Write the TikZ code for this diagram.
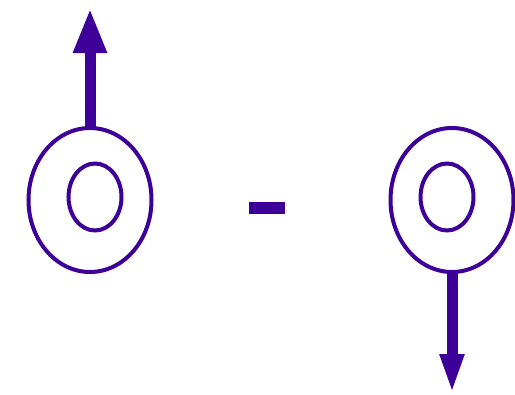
\documentclass[tikz,border=0pt]{standalone}
\usepackage{tikz}
\usetikzlibrary{shapes.geometric,arrows.meta,positioning,calc}
\definecolor{spinpurple}{RGB}{61,0,153}

\begin{document}
\begin{tikzpicture}[
    x=0.75pt, y=-0.75pt,
    ring/.style={draw=spinpurple, ellipse, inner sep=0pt, line width=3pt},
    outerring/.style={ring, minimum width=92.25pt, minimum height=108pt},
    innerring/.style={ring, minimum width=39.75pt, minimum height=50.25pt},
    spin/.style={draw=spinpurple, line width=8.25pt, -{Triangle[length=33.75pt, width=23.25pt]}}
]
\useasboundingbox (0,0) rectangle (515,394);
% left particle, spin up
\node[outerring] (lo) at (90,200) {};
\node[innerring] (li) at (95,197) {};
% right particle, spin down
\node[outerring] (ro) at (452,200) {};
\node[innerring] (ri) at (447,197) {};
% minus sign
\node[fill=spinpurple, inner sep=0pt, minimum width=27pt, minimum height=9pt] (minus) at (267,208) {};

\coordinate (ltip) at (90,8);
\coordinate (rtip) at (453,394);
\draw[spin, shorten <=-1pt] (lo.north) -- (lo.north |- ltip);
\draw[spin, -{Triangle[length=30pt, width=16.5pt]}, shorten <=-1pt] (ro.south) -- (ro.south |- rtip);
\end{tikzpicture}
\end{document}
